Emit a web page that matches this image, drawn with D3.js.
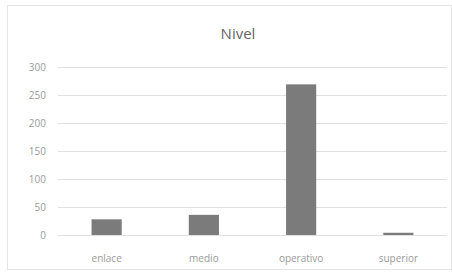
<!DOCTYPE html>
<html><head><meta charset="utf-8">
<script src="https://cdn.jsdelivr.net/npm/d3@7"></script>
<style>body{margin:0;background:#fff}svg{display:block}</style>
</head><body>
<svg id="c" width="452" height="272"></svg>
<script>
const categories = ["enlace", "medio", "operativo", "superior"];
const values = [28, 36, 269, 4];
const yTicks = [0, 50, 100, 150, 200, 250, 300];
const title = "Nivel";

const svg = d3.select("#c");
const W = 452, H = 272;
const m = {left: 58, right: 5, top: 67, bottom: 37};
svg.append("rect").attr("x", 7.5).attr("y", 5.5).attr("width", W - 8).attr("height", H - 8)
  .attr("fill", "#fff").attr("stroke", "#e4e4e4");

const x = d3.scaleBand().domain(categories).range([m.left, W - m.right]).paddingInner(0.69).paddingOuter(0.345);
const y = d3.scaleLinear().domain([0, 300]).range([H - m.bottom, m.top]);

const grid = svg.append("g");
grid.selectAll("line").data(yTicks).join("line")
  .attr("x1", m.left).attr("x2", W - m.right)
  .attr("y1", d => Math.round(y(d)) + 0.5).attr("y2", d => Math.round(y(d)) + 0.5)
  .attr("stroke", "#e0e0e0").attr("stroke-width", 1);

const yAxis = svg.append("g").attr("transform", `translate(${m.left},0)`)
  .call(d3.axisLeft(y).tickValues(yTicks).tickSize(0).tickPadding(12));
yAxis.select(".domain").remove();
yAxis.selectAll("text").attr("fill", "#9a9a9a").attr("font-size", 10).attr("font-family", "Open Sans, sans-serif");

svg.append("g").selectAll("rect").data(values).join("rect")
  .attr("x", (d, i) => x(categories[i])).attr("width", x.bandwidth())
  .attr("y", d => y(d)).attr("height", d => y(0) - y(d))
  .attr("fill", "#7b7b7b");

const xAxis = svg.append("g").attr("transform", `translate(0,${y(0)})`)
  .call(d3.axisBottom(x).tickSize(0).tickPadding(20));
xAxis.select(".domain").remove();
xAxis.selectAll("text").attr("fill", "#9a9a9a").attr("font-size", 10).attr("font-family", "Open Sans, sans-serif");

svg.append("text").attr("x", 238).attr("y", 39).attr("text-anchor", "middle")
  .attr("font-size", 15).attr("font-family", "Open Sans, sans-serif").attr("fill", "#666")
  .text(title);
</script>
</body></html>
